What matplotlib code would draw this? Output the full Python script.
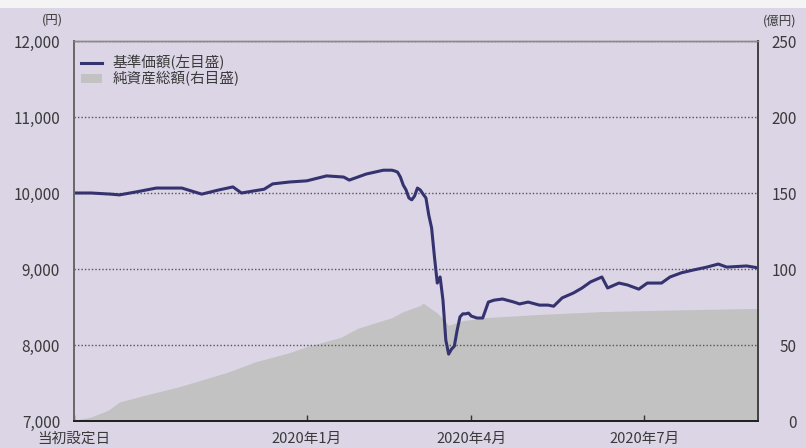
import matplotlib
matplotlib.use("Agg")
import matplotlib.pyplot as plt
import matplotlib.patches as mpatches
from matplotlib.ticker import FuncFormatter
import pandas as pd

plt.rcParams['font.family'] = ['Noto Sans CJK JP', 'DejaVu Sans']

# ---- data ----
START, END = '2019-08-30', '2020-08-31'
HOLIDAYS = ['2019-09-16', '2019-09-23', '2019-10-14', '2019-10-22', '2019-11-04',
            '2019-12-31', '2020-01-01', '2020-01-02', '2020-01-03', '2020-01-13',
            '2020-02-11', '2020-02-24', '2020-03-20', '2020-04-29', '2020-05-04',
            '2020-05-05', '2020-05-06', '2020-07-23', '2020-07-24', '2020-08-10']

nav_dates = ['2019-08-30', '2019-09-09', '2019-09-19', '2019-09-25', '2019-10-03',
             '2019-10-15', '2019-10-29', '2019-11-08', '2019-11-18', '2019-11-25',
             '2019-11-28', '2019-12-10', '2019-12-13', '2019-12-23', '2020-01-06',
             '2020-01-16', '2020-01-24', '2020-01-28', '2020-01-31', '2020-02-05',
             '2020-02-14', '2020-02-19', '2020-02-20', '2020-02-21', '2020-02-25',
             '2020-02-26', '2020-02-27', '2020-02-28', '2020-03-02', '2020-03-03',
             '2020-03-04', '2020-03-05', '2020-03-06', '2020-03-09', '2020-03-10',
             '2020-03-11', '2020-03-12', '2020-03-13', '2020-03-16', '2020-03-17',
             '2020-03-18', '2020-03-19', '2020-03-23', '2020-03-24', '2020-03-25',
             '2020-03-26', '2020-03-27', '2020-03-30', '2020-03-31', '2020-04-01',
             '2020-04-03', '2020-04-07', '2020-04-08', '2020-04-09', '2020-04-13',
             '2020-04-16', '2020-04-22', '2020-04-24', '2020-04-30', '2020-05-11',
             '2020-05-14', '2020-05-18', '2020-05-21', '2020-05-27', '2020-06-01',
             '2020-06-04', '2020-06-10', '2020-06-12', '2020-06-18', '2020-06-23',
             '2020-06-29', '2020-07-02', '2020-07-09', '2020-07-14', '2020-07-20',
             '2020-07-28', '2020-08-04', '2020-08-11', '2020-08-14', '2020-08-25',
             '2020-08-31']
nav_values = [10000, 10000, 9985, 9975, 10015,
              10065, 10065, 9985, 10040, 10080,
              10000, 10050, 10120, 10145, 10160,
              10225, 10210, 10170, 10210, 10250,
              10300, 10300, 10290, 10275, 10210,
              10105, 10040, 9935, 9910, 9960,
              10065, 10040, 9985, 9935, 9710,
              9540, 9160, 8815, 8895, 8590,
              8065, 7880, 7945, 7985, 8195,
              8370, 8410, 8410, 8420, 8380,
              8355, 8355, 8460, 8565, 8590,
              8605, 8565, 8540, 8565, 8525,
              8525, 8510, 8620, 8685, 8750,
              8830, 8895, 8750, 8815, 8790,
              8735, 8815, 8815, 8895, 8950,
              8985, 9025, 9065, 9025, 9040,
              9015]

na_dates = ['2019-08-30', '2019-09-09', '2019-09-18', '2019-09-25', '2019-10-08',
            '2019-10-25', '2019-11-08', '2019-11-21', '2019-12-05', '2019-12-23',
            '2020-01-06', '2020-01-23', '2020-01-31', '2020-02-19', '2020-02-26',
            '2020-03-05', '2020-03-06', '2020-03-13', '2020-03-19', '2020-03-27',
            '2020-04-08', '2020-05-08', '2020-06-10', '2020-07-14', '2020-08-27',
            '2020-08-31']
na_values = [0.5, 2.6, 7, 12.5, 17,
             22, 27, 32, 39, 45,
             49, 55, 61, 68, 72,
             76, 77.6, 71, 63, 66,
             68, 70, 72, 73, 74,
             74]

tick_dates = ['2019-08-30', '2020-01-01', '2020-04-01', '2020-07-01']
tick_labels = ['当初設定日', '2020年1月', '2020年4月', '2020年7月']
left_ticks = [7000, 8000, 9000, 10000, 11000, 12000]
right_ticks = [0, 50, 100, 150, 200, 250]
series_labels = ['基準価額(左目盛)', '純資産総額(右目盛)']

# ---- business-day axis ----
bdays = pd.bdate_range(START, END, freq='C', holidays=HOLIDAYS)
def pos(ds):
    return bdays.searchsorted(pd.to_datetime(ds))

x_nav = pos(nav_dates)
x_na = pos(na_dates)
x_ticks = pos(tick_dates)

BG = '#dcd5e6'
TXT = '#3a3a3a'
fig = plt.figure(figsize=(8.06, 4.48), dpi=100, facecolor=BG)
fig.patches.append(mpatches.Rectangle((0, 1 - 8 / 448), 1, 8 / 448, transform=fig.transFigure,
                                      facecolor='#f4f4f4', edgecolor='none', zorder=0))

ax = fig.add_axes([74 / 806, 1 - 421 / 448, 684 / 806, 380 / 448])
ax2 = ax.twinx()
ax.set_zorder(2)
ax2.set_zorder(1)
ax.patch.set_visible(False)
ax2.patch.set_facecolor('white')

area = ax2.fill_between(x_na, na_values, 0, color='#c2c2c2', lw=0, label=series_labels[1])
line, = ax.plot(x_nav, nav_values, color='#35336f', lw=2.2, label=series_labels[0],
                solid_joinstyle='round')

ax.set_xlim(0, len(bdays) - 1)
ax.set_ylim(7000, 12000)
ax2.set_ylim(0, 250)

ax.set_yticks(left_ticks)
ax.yaxis.set_major_formatter(FuncFormatter(lambda v, p: f'{int(v):,}'))
ax2.set_yticks(right_ticks)
ax.set_xticks(x_ticks)
ax.set_xticklabels(tick_labels)

ax.tick_params(axis='y', length=0, pad=10, labelsize=11, labelcolor=TXT)
ax2.tick_params(axis='y', length=0, pad=28, labelsize=11, labelcolor=TXT)
for t in ax2.get_yticklabels():
    t.set_horizontalalignment('right')
for t in ax.get_yticklabels():
    t.set_verticalalignment('center_baseline')
ax.tick_params(axis='x', direction='in', length=4, width=1, color='#333333',
               pad=8, labelsize=10.5, labelcolor=TXT)
ax2.tick_params(axis='x', length=0)

ax.set_axisbelow(True)
ax.yaxis.grid(True, color='#555555', linestyle=(0, (1, 1.5)), lw=1.0)

for a in (ax, ax2):
    a.spines['left'].set_color('#6a6a6a')
    a.spines['left'].set_linewidth(1.4)
    a.spines['right'].set_color('#444444')
    a.spines['right'].set_linewidth(1.4)
    a.spines['bottom'].set_color('#222222')
    a.spines['bottom'].set_linewidth(1.4)
    a.spines['top'].set_color('#8a8a8a')
    a.spines['top'].set_linewidth(1.0)

fig.text(63 / 806, 1 - 20 / 448, '(円)', ha='right', va='center', fontsize=9, color=TXT)
fig.text(796 / 806, 1 - 21 / 448, '(億円)', ha='right', va='center', fontsize=9, color=TXT)

ax.legend([line, area], series_labels, loc='upper left', bbox_to_anchor=(-0.004, 0.99),
          frameon=False, fontsize=10.5, handlelength=1.4, handleheight=0.55,
          handletextpad=0.75, labelspacing=0.05, borderaxespad=0.3, labelcolor=TXT)

fig.savefig('out.png', dpi=100, facecolor=BG)
